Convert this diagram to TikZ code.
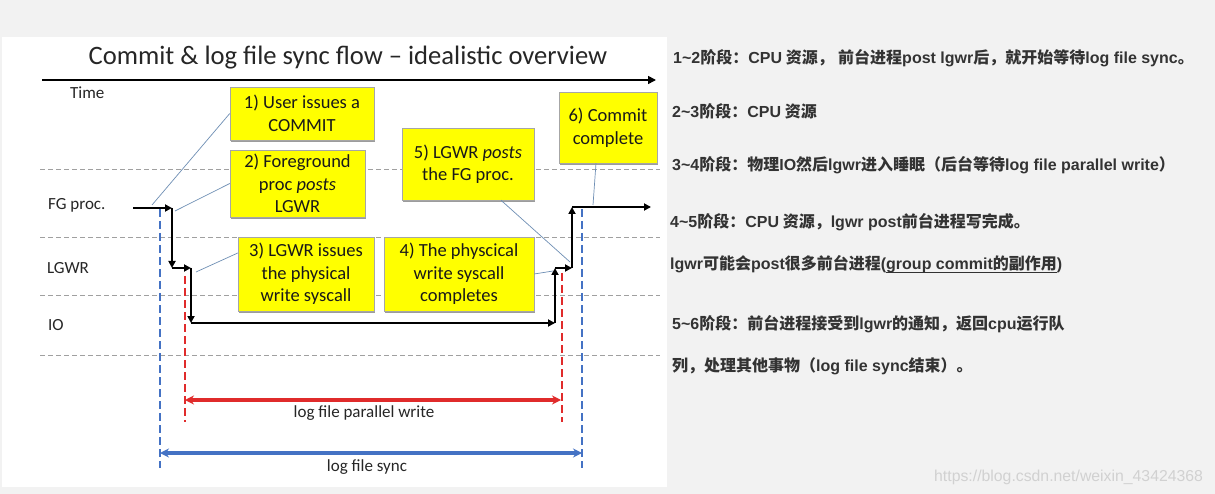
\documentclass[tikz,border=0pt]{standalone}
\usepackage{fontspec}
\setmainfont{Carlito}
\newfontfamily\zcjk{Noto Sans CJK SC}
\newfontfamily\zlat{Liberation Sans}
\usetikzlibrary{arrows.meta,shadows}
\definecolor{paper}{HTML}{F2F2F2}
\definecolor{boxyellow}{HTML}{FFFF00}
\definecolor{flowblue}{HTML}{4472C4}
\definecolor{flowred}{HTML}{E02B2B}
\definecolor{calloutc}{HTML}{6F8FB5}
\definecolor{gridc}{HTML}{A0A0A0}
\definecolor{rtext}{HTML}{333333}
\definecolor{titlec}{HTML}{262626}
\newcommand\myul[1]{\setbox0\hbox{#1}\rlap{\rule[-3pt]{\wd0}{0.8pt}}\box0}
\begin{document}
\begin{tikzpicture}[x=1pt,y=-1pt,
  box/.style={fill=boxyellow, draw=black!35, line width=0.5pt,
    drop shadow={shadow xshift=0.5pt, shadow yshift=-1.6pt, opacity=0.55, fill=black!70},
    align=center, inner sep=0pt, text=black!90,
    font=\fontsize{18.5}{22.5}\selectfont},
  lbl/.style={inner sep=0pt, text=black!85, font=\fontsize{17}{19}\selectfont},
  rline/.style={inner sep=0pt, anchor=base west, text=rtext,
    font=\zcjk\bfseries\fontsize{16}{19}\selectfont},
  flow/.style={draw=black, line width=1.8pt, -{Triangle[length=7pt,width=7pt]}},
  callout/.style={draw=calloutc, line width=0.7pt},
  gridline/.style={draw=gridc, line width=0.9pt, dash pattern=on 5pt off 3pt},
  bluedash/.style={draw=flowblue, line width=1.8pt, dash pattern=on 8pt off 4pt},
  reddash/.style={draw=flowred, line width=1.8pt, dash pattern=on 8pt off 4pt},
  tipm/.style={fill=#1, draw=none},
]
% background
\fill[paper] (0,0) rectangle (1215,494);
\fill[white] (2,37) rectangle (667,487);

% title and time axis
\node[anchor=base, inner sep=0pt, text=titlec, font=\fontsize{26.6}{30}\selectfont] (title) at (348,65)
  {Commit \& log file sync flow -- idealistic overview};
\draw[line width=1.6pt, -{Triangle[length=8pt,width=8pt]}] (42,80) -- (656,80);
\node[lbl, anchor=base west] (time) at (70,99) {Time};

% grid lines
\draw[gridline] (40,169) -- (660,169);
\draw[gridline] (40,237) -- (660,237);
\draw[gridline] (40,295) -- (660,295);
\draw[gridline] (40,355) -- (660,355);

% row labels
\node[lbl, anchor=base west] (lfg) at (48,210) {FG proc.};
\node[lbl, anchor=base west] (llg) at (47,273) {LGWR};
\node[lbl, anchor=base west] (lio) at (48,330) {IO};

% dashed markers
\coordinate (bl1) at (160,209); \coordinate (bl2) at (160,468);
\coordinate (br1) at (582,209); \coordinate (br2) at (582,468);
\coordinate (rl1) at (185,276); \coordinate (rl2) at (185,422);
\coordinate (rr1) at (562,273); \coordinate (rr2) at (562,422);
\draw[bluedash] (bl1) -- (bl2);
\draw[bluedash] (br1) -- (br2);
\draw[reddash] (rl1) -- (rl2);
\draw[reddash] (rr1) -- (rr2);

% measurement arrows
\coordinate (ra) at (185,400); \coordinate (rb) at (561,400);
\coordinate (ba) at (160,453); \coordinate (bb) at (582,453);
\draw[draw=flowred, line width=3.2pt,
  {Stealth[length=9pt,width=9pt]}-{Stealth[length=9pt,width=9pt]}] (ra) -- (rb);
\draw[draw=flowblue, line width=3.4pt,
  {Stealth[length=9pt,width=9pt]}-{Stealth[length=9pt,width=9pt]}] (ba) -- (bb);
\node[lbl, text=black!85] (lpw) at (364,413) {log file parallel write};
\node[lbl, text=black!85] (lfs) at (367,467) {log file sync};

% flow path
\coordinate (p0) at (133,208);
\coordinate (p1) at (172,208);
\coordinate (p2) at (172,268);
\coordinate (p3) at (191,268);
\coordinate (p4) at (191,323);
\coordinate (p5) at (555,323);
\coordinate (p6) at (555,268);
\coordinate (p7) at (572,268);
\coordinate (p8) at (572,207);
\coordinate (p9) at (651,207);
\draw[flow] (p0) -- (p1);
\draw[flow] (p1) -- (p2);
\draw[flow] (p2) -- (p3);
\draw[flow] (p3) -- (p4);
\draw[flow] (p4) -- (p5);
\draw[flow] (p5) -- (p6);
\draw[flow] (p6) -- (p7);
\draw[flow] (p7) -- (p8);
\draw[flow] (p8) -- (p9);

% boxes
\node[box, minimum width=144pt, minimum height=53pt] (b1) at (302,113.5) {1) User issues a\\COMMIT};
\node[box, minimum width=135pt, minimum height=67pt] (b2) at (297.5,183.5) {2) Foreground\\proc \textit{posts}\\LGWR};
\node[box, minimum width=136pt, minimum height=74pt] (b3) at (306,274) {3) LGWR issues\\the physical\\write syscall};
\node[box, minimum width=150pt, minimum height=74pt] (b4) at (459,274) {4) The physcical\\write syscall\\completes};
\node[box, minimum width=132pt, minimum height=72pt] (b5) at (468,164) {5) LGWR \textit{posts}\\the FG proc.};
\node[box, minimum width=98pt, minimum height=71pt] (b6) at (608,127.5) {6) Commit\\complete};

% callouts
\coordinate (k1) at (152,205);
\coordinate (k2) at (175,211);
\coordinate (k3) at (196,272);
\coordinate (k4) at (553,271);
\coordinate (k5) at (570,262);
\coordinate (k6) at (593,205);
\draw[callout] (b1.west) -- (k1);
\draw[callout] (b2.west) -- (k2);
\draw[callout] ([yshift=21pt]b3.west) -- (k3);
\draw[callout] (b4.east) -- (k4);
\draw[callout] ([xshift=33pt]b5.south) -- (k5);
\draw[callout] ([xshift=-12pt]b6.south) -- (k6);

% right-hand text
\node[rline] (r1) at (673,64) {{\zlat 1\textasciitilde 2}阶段：{\zlat CPU} 资源，{\zlat\ }前台进程{\zlat post lgwr}后，就开始等待{\zlat log file sync}。};
\node[rline] (r2) at (672,118) {{\zlat 2\textasciitilde 3}阶段：{\zlat CPU} 资源};
\node[rline] (r3) at (672,171) {{\zlat 3\textasciitilde 4}阶段：物理{\zlat IO}然后{\zlat lgwr}进入睡眠（后台等待{\zlat log file parallel write}）};
\node[rline] (r4) at (670,228) {{\zlat 4\textasciitilde 5}阶段：{\zlat CPU} 资源，{\zlat lgwr post}前台进程写完成。};
\node[rline] (r5) at (670,270) {{\zlat lgwr}可能会{\zlat post}很多前台进程{\zlat (}\myul{{\zlat group commit}的副作用}{\zlat )}};
\node[rline] (r6) at (672,329) {{\zlat 5\textasciitilde 6}阶段：前台进程接受到{\zlat lgwr}的通知，返回{\zlat cpu}运行队};
\node[rline] (r7) at (672,371) {列，处理其他事物（{\zlat log file sync}结束）。};

% watermark
\node[inner sep=0pt, anchor=base west, text=black!18, font=\zlat\fontsize{15.8}{18}\selectfont] (wm) at (934,481) {https://blog.csdn.net/weixin\_43424368};
\end{tikzpicture}
\end{document}
